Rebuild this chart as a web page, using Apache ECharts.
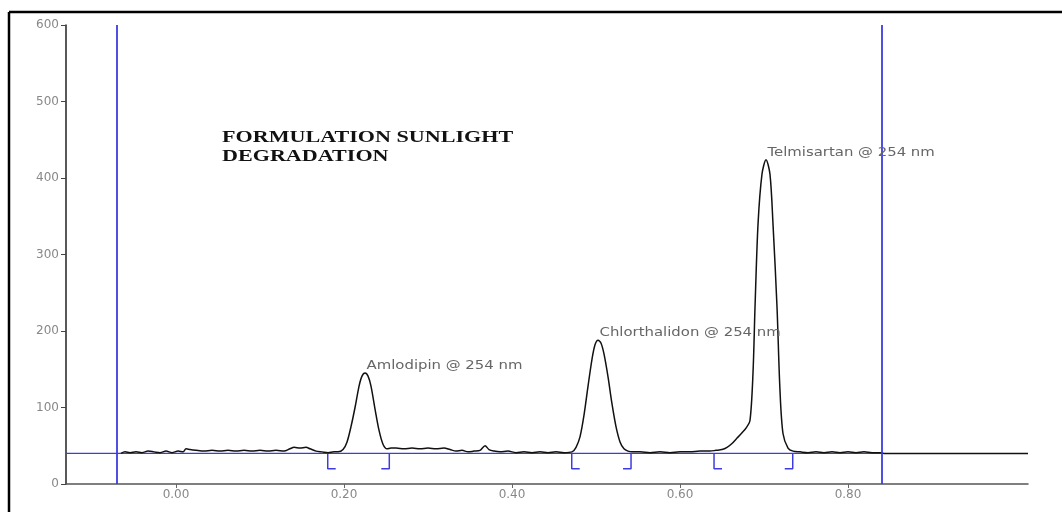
<!DOCTYPE html>
<html>
<head>
<meta charset="utf-8">
<title>Formulation sunlight degradation</title>
<script src="https://cdn.jsdelivr.net/npm/echarts@6/dist/echarts.min.js"></script>
<style>
  html, body { margin: 0; padding: 0; background: #ffffff; }
  #chart { width: 1062px; height: 512px; }
</style>
</head>
<body>
<div id="chart"></div>
<script>
// Detector trace: retention time (min) and response (mAU)
const traceTime = [
  -0.0655, -0.0607, -0.0548, -0.0476, -0.0405, -0.0333, -0.0262, -0.0190, -0.0119, -0.0048,
  0.0024, 0.0083, 0.0119, 0.0167, 0.0238, 0.0333, 0.0429, 0.0524, 0.0619, 0.0714,
  0.0810, 0.0905, 0.1000, 0.1095, 0.1190, 0.1286, 0.1357, 0.1405, 0.1476, 0.1548,
  0.1595, 0.1667, 0.1738, 0.1810, 0.1881, 0.1929, 0.1988, 0.2036, 0.2083, 0.2131,
  0.2179, 0.2214, 0.2250, 0.2286, 0.2321, 0.2369, 0.2417, 0.2464, 0.2512, 0.2560,
  0.2619, 0.2714, 0.2810, 0.2905, 0.3000, 0.3095, 0.3190, 0.3262, 0.3333, 0.3405,
  0.3476, 0.3548, 0.3619, 0.3679, 0.3726, 0.3786, 0.3857, 0.3952, 0.4048, 0.4143,
  0.4238, 0.4333, 0.4429, 0.4524, 0.4619, 0.4714, 0.4762, 0.4810, 0.4857, 0.4905,
  0.4952, 0.4988, 0.5024, 0.5060, 0.5095, 0.5143, 0.5190, 0.5238, 0.5286, 0.5333,
  0.5381, 0.5429, 0.5524, 0.5643, 0.5762, 0.5881, 0.6000, 0.6119, 0.6238, 0.6357,
  0.6429, 0.6500, 0.6560, 0.6619, 0.6679, 0.6738, 0.6786, 0.6833, 0.6869, 0.6893,
  0.6929, 0.6976, 0.7024, 0.7071, 0.7107, 0.7155, 0.7190, 0.7226, 0.7286, 0.7345,
  0.7429, 0.7524, 0.7619, 0.7714, 0.7810, 0.7905, 0.8000, 0.8095, 0.8190, 0.8286,
  0.8381, 0.8429, 1.0143
];
const traceSignal = [
  40, 42, 41, 42, 41, 43, 42, 41, 43, 41,
  43, 42, 46, 45, 44, 43, 44, 43, 44, 43,
  44, 43, 44, 43, 44, 43, 46, 48, 47, 48,
  46, 43, 42, 41, 42, 42, 45, 55, 75, 100,
  128, 141, 145, 141, 128, 98, 70, 52, 46, 47,
  47, 46, 47, 46, 47, 46, 47, 45, 43, 44,
  42, 43, 44, 50, 45, 43, 42, 43, 41, 42,
  41, 42, 41, 42, 41, 42, 48, 62, 90, 128,
  163, 182, 188, 184, 170, 140, 105, 75, 55, 46,
  43, 42, 42, 41, 42, 41, 42, 42, 43, 43,
  44, 45, 48, 53, 60, 67, 73, 83, 145, 231,
  340, 405, 424, 405, 340, 231, 123, 66, 47, 43,
  42, 41, 42, 41, 42, 41, 42, 41, 42, 41,
  41, 40, 40
];

// Identified peaks
const peakNames = ['Amlodipin @ 254 nm', 'Chlorthalidon @ 254 nm', 'Telmisartan @ 254 nm'];
const peakTimes = [0.2250, 0.5024, 0.7024];
const peakHeights = [145, 188, 424];

// Integration limits of each peak
const integStart = [0.1806, 0.4711, 0.6405];
const integEnd = [0.2539, 0.5417, 0.7342];

// Baseline level and the processing window
const baselineLevel = 40;
const windowStart = -0.0655;
const windowEnd = 0.8405;

// Axes
const timeRange = [-0.131, 1.0143];
const timeTicks = [0, 0.2, 0.4, 0.6, 0.8];
const responseRange = [0, 600];
const responseStep = 100;

const chartTitle = 'FORMULATION SUNLIGHT\nDEGRADATION';

// Drawing constants
const BLUE = '#3c3ce0';
const MARK_DEPTH = 20;      // how far below the baseline the limit marks reach
const MARK_FOOT = 0.0095;   // length of the foot of each limit mark

const traceData = traceTime.map((t, i) => [t, traceSignal[i]]);

const limitSeries = [];
integStart.forEach(t => {
  limitSeries.push([[t, baselineLevel], [t, baselineLevel - MARK_DEPTH], [t + MARK_FOOT, baselineLevel - MARK_DEPTH]]);
});
integEnd.forEach(t => {
  limitSeries.push([[t, baselineLevel], [t, baselineLevel - MARK_DEPTH], [t - MARK_FOOT, baselineLevel - MARK_DEPTH]]);
});

const series = [
  {
    name: 'baseline',
    type: 'line',
    data: [[timeRange[0], baselineLevel], [windowEnd, baselineLevel]],
    symbol: 'none',
    silent: true,
    lineStyle: { color: BLUE, width: 1.3 },
    z: 2,
    markLine: {
      silent: true,
      symbol: ['none', 'none'],
      label: { show: false },
      lineStyle: { color: BLUE, width: 1.8, type: 'solid' },
      data: [{ xAxis: windowStart }, { xAxis: windowEnd }]
    }
  },
  {
    name: 'trace',
    type: 'line',
    data: traceData,
    symbol: 'none',
    smooth: 0.3,
    silent: true,
    lineStyle: { color: '#111111', width: 1.5 },
    z: 3
  }
];
limitSeries.forEach((pts, i) => {
  series.push({
    name: 'limit' + i,
    type: 'line',
    data: pts,
    symbol: 'none',
    silent: true,
    lineStyle: { color: BLUE, width: 1.5 },
    z: 2
  });
});

const option = {
  animation: false,
  backgroundColor: '#ffffff',
  grid: { left: 66, right: 34, top: 25, bottom: 28, containLabel: false },
  xAxis: {
    type: 'value',
    min: timeRange[0],
    max: timeRange[1],
    axisLine: { show: true, onZero: false, lineStyle: { color: '#555555', width: 1.5 } },
    axisTick: { show: true, customValues: timeTicks, length: 4, lineStyle: { color: '#666666' } },
    axisLabel: {
      customValues: timeTicks,
      formatter: v => v.toFixed(2),
      color: '#888888',
      fontFamily: 'DejaVu Sans',
      fontSize: 12,
      margin: 5
    },
    splitLine: { show: false }
  },
  yAxis: {
    type: 'value',
    min: responseRange[0],
    max: responseRange[1],
    interval: responseStep,
    axisLine: { show: true, onZero: false, lineStyle: { color: '#222222', width: 1.5 } },
    axisTick: { show: true, length: 5, lineStyle: { color: '#444444' } },
    axisLabel: {
      color: '#888888',
      fontFamily: 'DejaVu Sans',
      fontSize: 12,
      margin: 7
    },
    splitLine: { show: false }
  },
  series: series
};

const chart = echarts.init(document.getElementById('chart'), null, { renderer: 'canvas' });
chart.setOption(option);

// Peak names sit just above each apex, placed through the axis scales
const peakLabels = peakNames.map((name, i) => {
  const p = chart.convertToPixel({ gridIndex: 0 }, [peakTimes[i], peakHeights[i]]);
  return {
    type: 'text',
    x: p[0] + 1.5,
    y: p[1] - 1,
    scaleX: 1.24,
    silent: true,
    z: 10,
    style: {
      text: name,
      fill: '#666666',
      fontFamily: 'DejaVu Sans',
      fontSize: 12,
      align: 'left',
      verticalAlign: 'bottom'
    }
  };
});

chart.setOption({
  graphic: [
    // frame along the top and left edges
    { type: 'line', silent: true, shape: { x1: 9, y1: 12, x2: 1062, y2: 12 }, style: { stroke: '#000000', lineWidth: 2.5 } },
    { type: 'line', silent: true, shape: { x1: 9, y1: 12, x2: 9, y2: 512 }, style: { stroke: '#000000', lineWidth: 2.5 } },
    {
      type: 'text',
      x: 222,
      y: 128,
      scaleX: 1.3,
      silent: true,
      style: {
        text: chartTitle,
        fill: '#111111',
        fontFamily: 'Liberation Serif',
        fontWeight: 'bold',
        fontSize: 17,
        lineHeight: 19,
        align: 'left',
        verticalAlign: 'top'
      }
    }
  ].concat(peakLabels)
});
</script>
</body>
</html>
